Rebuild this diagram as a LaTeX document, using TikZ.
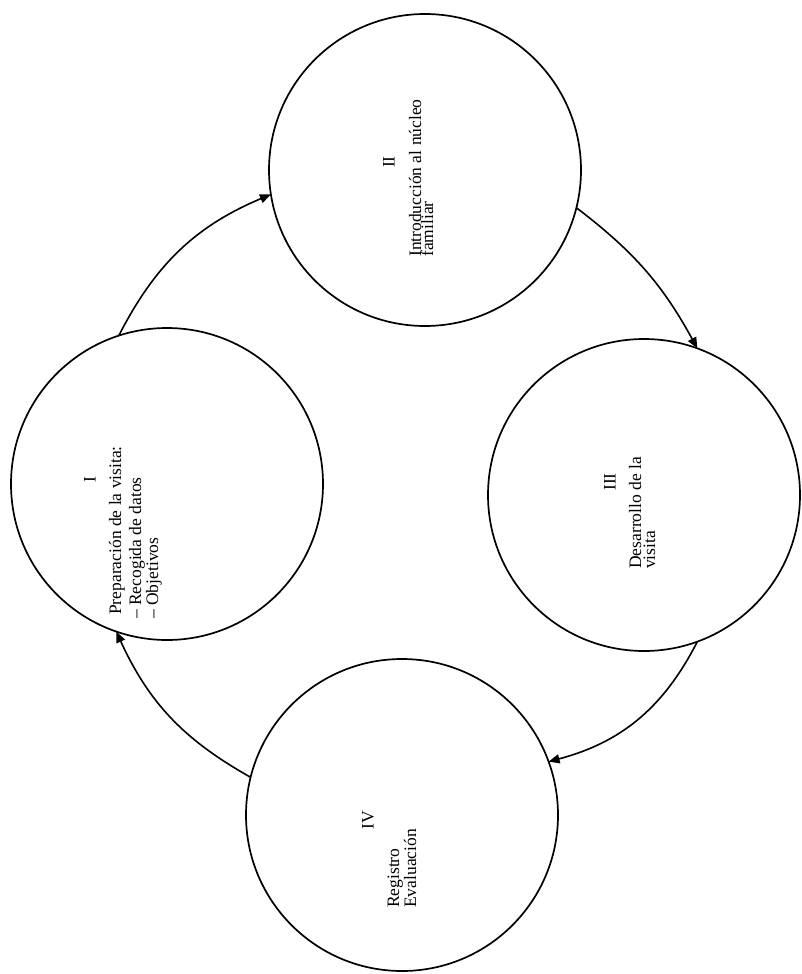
\documentclass[tikz,border=0pt]{standalone}
\usepackage{fontspec}
\setmainfont{Liberation Serif}
\usetikzlibrary{arrows.meta}
\tikzset{
  circ/.style={circle, draw, minimum size=312pt, inner sep=0pt, outer sep=0pt, line width=1.7pt},
  lbl/.style={rotate=90, anchor=base west, inner sep=0pt, font=\fontsize{17.5}{20}\selectfont},
  num/.style={rotate=90, anchor=center, inner sep=0pt, font=\fontsize{17.5}{20}\selectfont},
  conn/.style={draw, line width=1.6pt, -{Triangle[length=11pt,width=9pt]}}
}
\begin{document}
\begin{tikzpicture}[x=1pt,y=1pt]
\fill[white] (0,0) rectangle (802,-974);
\useasboundingbox (0,0) rectangle (802,-974);

\node[circ] (I)   at (167,-484) {};
\node[circ] (II)  at (425,-170) {};
\node[circ] (III) at (644,-495) {};
\node[circ] (IV)  at (402,-815) {};

% Circle I
\node[num] (numI) at (90,-480) {I};
\node[lbl] (l1a) at (121,-615) {Preparación de la visita:};
\node[lbl] (l1b) at (141,-619) {– Recogida de datos};
\node[lbl] (l1c) at (158,-619) {– Objetivos};

% Circle II
\node[num] (numII) at (389,-162) {II};
\node[lbl] (l2a) at (421,-257) {Introducción al núcleo};
\node[lbl] (l2b) at (433,-257) {familiar};

% Circle III
\node[num] (numIII) at (610,-482) {III};
\node[lbl] (l3a) at (641,-569) {Desarrollo de la};
\node[lbl] (l3b) at (655,-569) {visita};

% Circle IV
\node[num] (numIV) at (368,-820) {IV};
\node[lbl] (l4a) at (399,-908) {Registro};
\node[lbl] (l4b) at (416,-908) {Evaluación};

% Connectors
\draw[conn] (I.108)  to[bend left=20] (II.189);
\draw[conn] (II.-14) to[bend left=12] (III.70);
\draw[conn] (III.-70) to[bend left=24] (IV.20);
\draw[conn] (IV.166) to[bend left=18] (I.-109);
\end{tikzpicture}
\end{document}
